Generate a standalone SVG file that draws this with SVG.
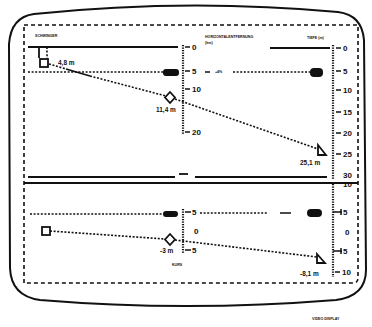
<svg xmlns="http://www.w3.org/2000/svg" width="372" height="327" viewBox="0 0 372 327">
  <style>
    .frame { fill: none; stroke: #111; stroke-width: 2; }
    .border { fill: none; stroke: #111; stroke-width: 1.6; stroke-dasharray: 4 3; }
    .solid { stroke: #111; stroke-width: 1.8; fill: none; }
    .dotted { stroke: #111; stroke-width: 1.6; stroke-dasharray: 2 1.6; fill: none; }
    .axis { stroke: #111; stroke-width: 2.2; stroke-dasharray: 1.2 1.3; fill: none; }
    .tick { stroke: #111; stroke-width: 1.5; }
    .pill { fill: #111; }
    .mark { fill: #fff; stroke: #111; stroke-width: 1.8; }
    .num { font-family: "Liberation Sans", Arial, sans-serif; font-weight: bold; font-size: 8px; fill: #111; }
    .lbl { font-family: "Liberation Sans", Arial, sans-serif; font-weight: bold; font-size: 6.5px; fill: #111; }
    .cap { font-family: "Liberation Sans", Arial, sans-serif; font-weight: bold; font-size: 3.6px; fill: #111; }
  </style>

  <rect width="372" height="327" fill="#fff"/>

  <!-- screen outline and dashed display border -->
  <g id="screen">
    <path class="frame" d="M 34,14 Q 186,-2 338,12 Q 362,15 364,40 L 366,270 Q 366,296 336,300 Q 186,312 40,300 Q 11,296 10,268 L 9,44 Q 11,17 34,14 Z"/>
    <path class="border" d="M 24,25 L 358,25 L 358,278 Q 358,283 353,283 L 24,283 Z"/>
  </g>

  <!-- upper panel: surface line, transducer and separators -->
  <g id="surface">
    <line class="solid" x1="28" y1="47" x2="178" y2="47"/>
    <line class="solid" x1="270" y1="48" x2="330" y2="48"/>
    <line class="solid" x1="39" y1="47" x2="39" y2="58"/>
    <line class="dotted" x1="47" y1="47" x2="47" y2="58"/>
    <text class="cap" x="35" y="37">SCHWINGER</text>
  </g>

  <g id="separator">
    <line class="solid" x1="28" y1="177" x2="175" y2="177"/>
    <line class="solid" x1="179" y1="174" x2="188" y2="174"/>
    <line class="solid" x1="195" y1="177" x2="327" y2="177"/>
    <line x1="24" y1="183" x2="358" y2="183" stroke="#111" stroke-width="2.2"/>
  </g>

  <!-- scales -->
  <g id="scale-range">
    <line class="axis" x1="183" y1="45" x2="183" y2="134"/>
    <line class="tick" x1="185" y1="47" x2="190" y2="47"/>
    <line class="tick" x1="185" y1="71" x2="190" y2="71"/>
    <line class="tick" x1="185" y1="89" x2="190" y2="89"/>
    <line class="tick" x1="185" y1="132" x2="190" y2="132"/>
    <text class="num" x="192" y="50">0</text>
    <text class="num" x="192" y="74">5</text>
    <text class="num" x="192" y="92">10</text>
    <text class="num" x="192" y="135">20</text>
    <text class="cap" x="205" y="38">HORIZONTALENTFERNUNG</text>
    <text class="cap" x="205" y="44">(km)</text>
  </g>

  <g id="scale-depth">
    <line class="axis" x1="333" y1="45" x2="333" y2="180"/>
    <line class="tick" x1="336" y1="48" x2="341" y2="48"/>
    <line class="tick" x1="336" y1="71" x2="341" y2="71"/>
    <line class="tick" x1="336" y1="90" x2="341" y2="90"/>
    <line class="tick" x1="336" y1="112" x2="341" y2="112"/>
    <line class="tick" x1="336" y1="133" x2="341" y2="133"/>
    <line class="tick" x1="336" y1="154" x2="341" y2="154"/>
    <text class="num" x="343" y="51">0</text>
    <text class="num" x="343" y="74">5</text>
    <text class="num" x="343" y="93">10</text>
    <text class="num" x="343" y="115">15</text>
    <text class="num" x="343" y="136">20</text>
    <text class="num" x="343" y="157">25</text>
    <text class="num" x="343" y="178">30</text>
    <text class="cap" x="307" y="39">TIEFE (m)</text>
  </g>

  <g id="scale-lower-mid">
    <line class="axis" x1="183" y1="209" x2="183" y2="254"/>
    <line class="tick" x1="185" y1="212" x2="191" y2="212"/>
    <line class="tick" x1="185" y1="250" x2="191" y2="250"/>
    <text class="num" x="192" y="215">5</text>
    <text class="num" x="194" y="234">0</text>
    <text class="num" x="192" y="253">5</text>
    <text class="cap" x="172" y="266">KURS</text>
  </g>

  <g id="scale-lower-right">
    <line class="axis" x1="333" y1="184" x2="333" y2="277"/>
    <line class="tick" x1="333" y1="212" x2="342" y2="212"/>
    <line class="tick" x1="341" y1="209" x2="341" y2="215"/>
    <line class="tick" x1="333" y1="251" x2="342" y2="251"/>
    <line class="tick" x1="341" y1="248" x2="341" y2="254"/>
    <line class="tick" x1="335" y1="272" x2="340" y2="272"/>
    <text class="num" x="343" y="187">10</text>
    <text class="num" x="343" y="215">5</text>
    <text class="num" x="345" y="235">0</text>
    <text class="num" x="343" y="254">5</text>
    <text class="num" x="342" y="275">10</text>
  </g>

  <!-- connectors -->
  <g id="connectors">
    <line class="dotted" x1="28" y1="72" x2="163" y2="72"/>
    <line class="tick" x1="205" y1="72" x2="210" y2="72"/>
    <line class="dotted" x1="233" y1="72" x2="310" y2="72"/>
    <line class="dotted" x1="49" y1="64" x2="66" y2="69"/>
    <line class="solid" x1="66" y1="69" x2="90" y2="76"/>
    <line class="dotted" x1="90" y1="76" x2="166" y2="96"/>
    <line class="dotted" x1="175" y1="99" x2="318" y2="149"/>
    <line class="dotted" x1="30" y1="214" x2="163" y2="214"/>
    <line class="dotted" x1="200" y1="213" x2="268" y2="213"/>
    <line class="tick" x1="280" y1="213" x2="291" y2="213"/>
    <line class="dotted" x1="50" y1="231" x2="165" y2="239"/>
    <line class="dotted" x1="175" y1="240" x2="317" y2="257"/>
  </g>

  <!-- markers -->
  <g id="transducer">
    <rect class="mark" x="40" y="59" width="8" height="8"/>
    <text class="lbl" x="58" y="65">4,8 m</text>
  </g>
  <g id="pill-upper-left"><rect class="pill" x="163" y="69" width="16" height="7" rx="3"/></g>
  <g id="pill-upper-right"><rect class="pill" x="310" y="68" width="13" height="9" rx="4"/></g>
  <g id="pill-lower-left"><rect class="pill" x="163" y="211" width="15" height="6" rx="3"/></g>
  <g id="pill-lower-right"><rect class="pill" x="307" y="209" width="15" height="8" rx="4"/></g>
  <g id="note-upper"><text class="cap" x="215" y="73">+4%</text></g>

  <g id="target-mid">
    <path class="mark" d="M 170,92 L 175,97.5 L 170,103 L 165,97.5 Z"/>
    <text class="lbl" x="156" y="112">11,4 m</text>
  </g>
  <g id="target-far">
    <path class="mark" d="M 318,145 L 326,155 L 318,155 Z"/>
    <text class="lbl" x="300" y="165">25,1 m</text>
  </g>

  <g id="transducer-lower">
    <rect class="mark" x="42" y="227" width="8" height="8"/>
  </g>
  <g id="target-lower-mid">
    <path class="mark" d="M 170,234 L 175,239.5 L 170,245 L 165,239.5 Z"/>
    <text class="lbl" x="160" y="253">-3 m</text>
  </g>
  <g id="target-lower-far">
    <path class="mark" d="M 317,254 L 325,263 L 317,263 Z"/>
    <text class="lbl" x="300" y="276">-8,1 m</text>
  </g>

  <text class="cap" x="312" y="320">VIDEO DISPLAY</text>
</svg>
